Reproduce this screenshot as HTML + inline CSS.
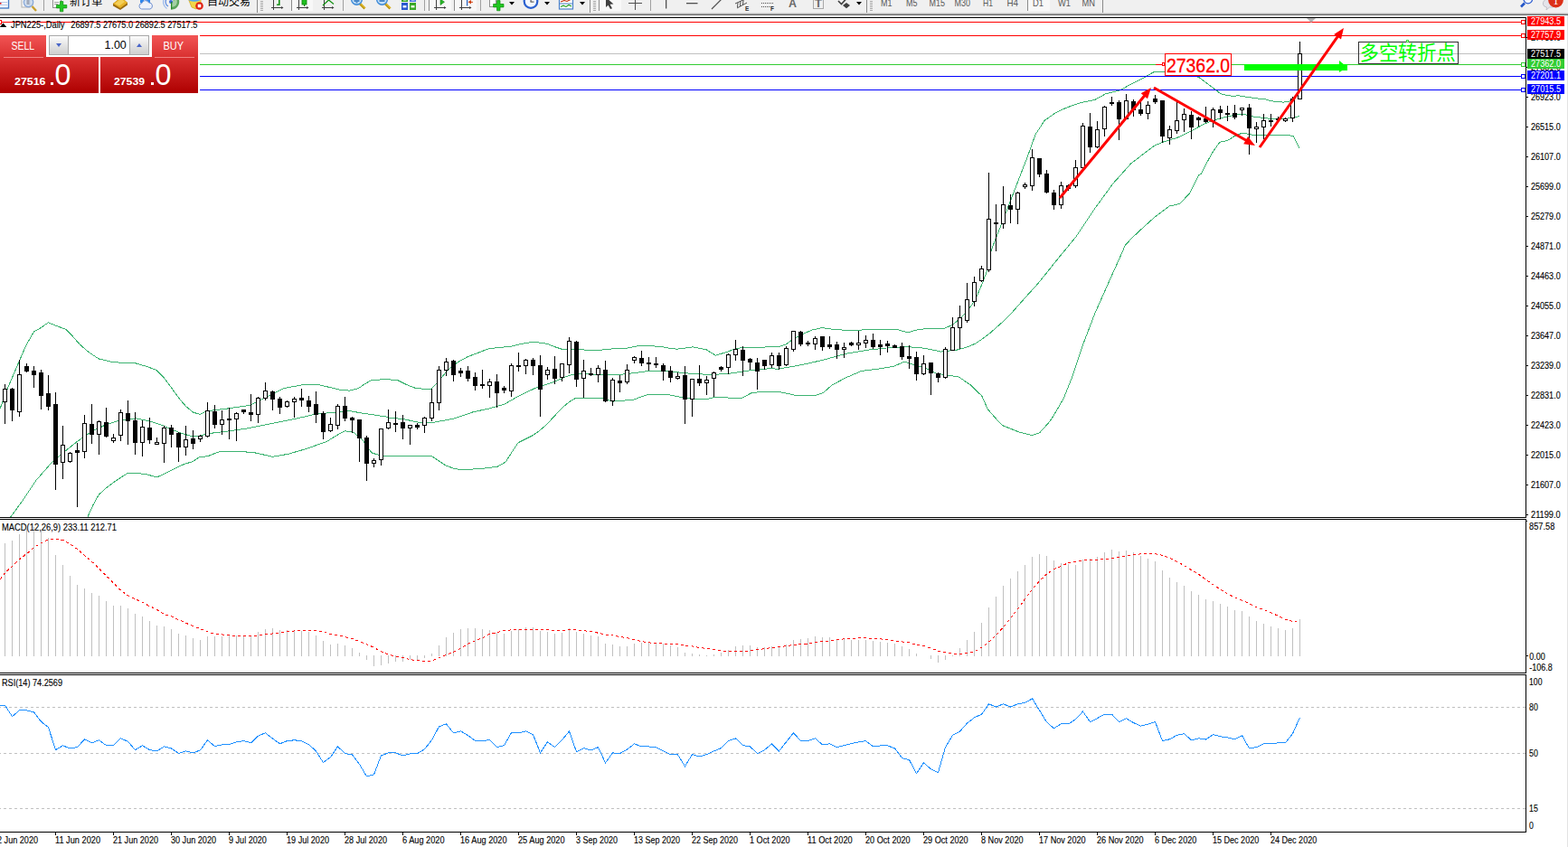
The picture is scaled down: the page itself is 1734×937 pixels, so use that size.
<!DOCTYPE html>
<html><head><meta charset="utf-8"><title>JPN225 Daily</title>
<style>html,body{margin:0;padding:0;background:#fff;overflow:hidden;font-family:"Liberation Sans",sans-serif}
#wrap{position:relative;width:1734px;height:937px;overflow:hidden}</style></head>
<body><div id="wrap">
<svg width="1734" height="937" viewBox="0 0 1734 937" style="position:absolute;left:0;top:0" font-family="Liberation Sans, sans-serif">
<defs>
<clipPath id="cm"><rect x="0" y="20" width="1687" height="552"/></clipPath>
<linearGradient id="gs" x1="0" y1="0" x2="0" y2="1"><stop offset="0" stop-color="#f25555"/><stop offset="0.38" stop-color="#d93030"/><stop offset="1" stop-color="#ae0000"/></linearGradient>
<linearGradient id="gb" x1="0" y1="0" x2="0" y2="1"><stop offset="0" stop-color="#fdfdfd"/><stop offset="0.5" stop-color="#e4e4e4"/><stop offset="1" stop-color="#cfcfcf"/></linearGradient>
</defs>
<rect x="0" y="0" width="1734" height="937" fill="#fff"/>
<g>
<rect x="0" y="0" width="1734" height="15" fill="#f0f0f0"/>
<clipPath id="ct"><rect x="0" y="0" width="1734" height="14"/></clipPath>
<g clip-path="url(#ct)">
<rect x="322" y="0" width="24" height="12" fill="#f8f8f8"/><rect x="322" y="0" width="1" height="12" fill="#8c8c8c"/>
<rect x="474" y="0" width="25" height="12" fill="#f8f8f8"/><rect x="474" y="0" width="1" height="12" fill="#8c8c8c"/>
<rect x="502" y="0" width="25" height="12" fill="#f8f8f8"/><rect x="502" y="0" width="1" height="12" fill="#8c8c8c"/>
<rect x="662" y="0" width="25" height="12" fill="#f8f8f8"/><rect x="662" y="0" width="1" height="12" fill="#8c8c8c"/>
<rect x="1136" y="0" width="25" height="12" fill="#f8f8f8"/><rect x="1136" y="0" width="1" height="12" fill="#8c8c8c"/>
<rect x="48" y="0" width="1" height="12" fill="#a0a0a0"/>
<rect x="379" y="0" width="1" height="12" fill="#a0a0a0"/>
<rect x="469" y="0" width="1" height="12" fill="#a0a0a0"/>
<rect x="531" y="0" width="1" height="12" fill="#a0a0a0"/>
<rect x="719" y="0" width="1" height="12" fill="#a0a0a0"/>
<rect x="284" y="0" width="1" height="15" fill="#8a8a8a"/>
<rect x="652" y="0" width="1" height="15" fill="#8a8a8a"/>
<rect x="958" y="0" width="1" height="15" fill="#8a8a8a"/>
<rect x="1219" y="0" width="1" height="15" fill="#8a8a8a"/>
<rect x="288" y="1" width="3" height="1" fill="#a8a8a8"/>
<rect x="288" y="3" width="3" height="1" fill="#a8a8a8"/>
<rect x="288" y="5" width="3" height="1" fill="#a8a8a8"/>
<rect x="288" y="7" width="3" height="1" fill="#a8a8a8"/>
<rect x="288" y="9" width="3" height="1" fill="#a8a8a8"/>
<rect x="288" y="11" width="3" height="1" fill="#a8a8a8"/>
<rect x="656" y="1" width="3" height="1" fill="#a8a8a8"/>
<rect x="656" y="3" width="3" height="1" fill="#a8a8a8"/>
<rect x="656" y="5" width="3" height="1" fill="#a8a8a8"/>
<rect x="656" y="7" width="3" height="1" fill="#a8a8a8"/>
<rect x="656" y="9" width="3" height="1" fill="#a8a8a8"/>
<rect x="656" y="11" width="3" height="1" fill="#a8a8a8"/>
<rect x="962" y="1" width="3" height="1" fill="#a8a8a8"/>
<rect x="962" y="3" width="3" height="1" fill="#a8a8a8"/>
<rect x="962" y="5" width="3" height="1" fill="#a8a8a8"/>
<rect x="962" y="7" width="3" height="1" fill="#a8a8a8"/>
<rect x="962" y="9" width="3" height="1" fill="#a8a8a8"/>
<rect x="962" y="11" width="3" height="1" fill="#a8a8a8"/>
<rect x="-1" y="-2" width="10.5" height="11" fill="#fff" stroke="#4a80c8" stroke-width="1.4"/><rect x="0" y="2" width="8" height="1" fill="#b8c8e8"/><rect x="0" y="5" width="8" height="1" fill="#b8c8e8"/><rect x="0" y="3" width="1.5" height="1.5" fill="#e00000"/>
<rect x="24" y="-2" width="9" height="10" fill="#fafafa" stroke="#b0b0b0" stroke-width="1"/>
<circle cx="31.5" cy="2.5" r="5.2" fill="#c8d8ec" fill-opacity="0.85" stroke="#88a8d8" stroke-width="1.3"/><rect x="29.5" y="0" width="3" height="5" fill="#a0a8b8"/>
<line x1="35.5" y1="7" x2="40" y2="12" stroke="#c8a030" stroke-width="2.4"/>
<rect x="58.5" y="-2" width="9" height="10.5" fill="#fff" stroke="#909090" stroke-width="1"/><rect x="60" y="2" width="5" height="1" fill="#a0a0a0"/><rect x="60" y="4" width="4" height="1" fill="#a0a0a0"/>
<path d="M66.4,1.6 h3.4 v3.9 h4 v3.4 h-4 v3.9 h-3.4 v-3.9 h-4 v-3.4 h4 z" fill="#22c822" stroke="#0a8a0a" stroke-width="0.7"/>
<text x="77" y="6" font-size="12.1" fill="#000" font-family="'Liberation Sans','Noto Sans CJK SC',sans-serif" textLength="36.3" lengthAdjust="spacingAndGlyphs">新订单</text>
<path d="M125,4 L134,-3 L141,3 L141,5.5 L133,11 L125,6.5 Z" fill="#9a6a10"/><path d="M125,4 L134,-3 L141,3 L133,9 Z" fill="#e8b428"/><path d="M127,4 L134,-1.5 L138,2 L132,6.5 Z" fill="#f4cf58"/>
<rect x="155" y="-2" width="11" height="5" fill="#2a86ee"/><rect x="159" y="-2" width="2" height="4" fill="#e8f2ff"/>
<path d="M156.5,10 a3.3,3.3 0 0 1 0.5,-6.5 a4,4 0 0 1 7.5,-0.5 a3.6,3.6 0 0 1 1.5,7 z" fill="#eef2fa" stroke="#7090d0" stroke-width="1"/>
<path d="M189.5,2 L189.5,10.5 A8.5,8.5 0 0 0 196.5,-3 Z" fill="#5aa45a"/><path d="M189.5,2 L189.5,8 A6,6 0 0 0 195,-1 Z" fill="#a4d0a4"/>
<circle cx="189" cy="2" r="2" fill="#3a6ad8"/><path d="M185,-2 A5.5,5.5 0 0 0 186,7" fill="none" stroke="#5a8ae0" stroke-width="1.2"/><path d="M182.5,-3 A8.5,8.5 0 0 0 184.5,9.5" fill="none" stroke="#9ab8ec" stroke-width="1.2"/><rect x="189" y="2" width="1.3" height="8.5" fill="#2a8a2a"/>
<path d="M208,-2 L222,-2 L222,6 L217,10 L212,8 Z" fill="#f2d648" stroke="#d0a820" stroke-width="0.8"/><path d="M209,-3 h12 v3.5 q-6,2.5 -12,0 z" fill="#58a8e8"/>
<circle cx="220.5" cy="6.5" r="4.3" fill="#e02010"/><rect x="218.7" y="4.7" width="3.6" height="3.6" fill="#fff"/>
<text x="229" y="6.1" font-size="12" fill="#000" font-family="'Liberation Sans','Noto Sans CJK SC',sans-serif" textLength="48" lengthAdjust="spacingAndGlyphs">自动交易</text>
<rect x="302" y="0" width="1" height="11" fill="#404040"/><rect x="300" y="8" width="13" height="1" fill="#404040"/><path d="M311,7 L313.5,8.5 L311,10 Z" fill="#404040"/>
<rect x="308" y="-1" width="1.6" height="7" fill="#109010"/><rect x="306" y="4.5" width="2" height="1.4" fill="#109010"/>
<rect x="330" y="0" width="1" height="11" fill="#404040"/><rect x="328" y="8" width="13" height="1" fill="#404040"/><path d="M339,7 L341.5,8.5 L339,10 Z" fill="#404040"/>
<rect x="334" y="-1" width="5" height="6" fill="#20c020" stroke="#0a800a" stroke-width="0.8"/><rect x="336" y="5" width="1.2" height="2" fill="#0a800a"/>
<rect x="358" y="0" width="1" height="11" fill="#404040"/><rect x="356" y="8" width="13" height="1" fill="#404040"/><path d="M367,7 L369.5,8.5 L367,10 Z" fill="#404040"/>
<polyline points="357,6 363.5,0 369,4.5" fill="none" stroke="#109010" stroke-width="1.2"/>
<line x1="398.0" y1="4" x2="403.5" y2="9.5" stroke="#d8b020" stroke-width="3"/><line x1="398.0" y1="5" x2="403.0" y2="10" stroke="#a07c10" stroke-width="0.8"/>
<circle cx="394.5" cy="-0.5" r="5.8" fill="#c4e0f8" stroke="#3a88d8" stroke-width="1.4"/>
<rect x="391.5" y="0" width="6" height="2" fill="#4a88c8"/>
<rect x="393.5" y="-2" width="2" height="5.5" fill="#4a88c8"/>
<line x1="426.0" y1="4" x2="431.5" y2="9.5" stroke="#d8b020" stroke-width="3"/><line x1="426.0" y1="5" x2="431.0" y2="10" stroke="#a07c10" stroke-width="0.8"/>
<circle cx="422.5" cy="-0.5" r="5.8" fill="#c4e0f8" stroke="#3a88d8" stroke-width="1.4"/>
<rect x="419.5" y="0" width="6" height="2" fill="#4a88c8"/>
<rect x="444" y="-2" width="7" height="4" fill="#3aa828"/><rect x="453" y="-2" width="7" height="4" fill="#4a78e0"/><rect x="444" y="3" width="7" height="8" fill="#2a58d0"/><rect x="453" y="3" width="7" height="8" fill="#3aa828"/>
<rect x="445.5" y="6" width="4" height="2.5" fill="#e8eefc"/><rect x="454.5" y="6" width="4" height="2.5" fill="#e8f8e0"/><rect x="446" y="-1" width="3.5" height="1.5" fill="#fff"/><rect x="455" y="-1" width="3.5" height="1.5" fill="#fff"/>
<rect x="482" y="0" width="1" height="11" fill="#404040"/><rect x="480" y="8" width="13" height="1" fill="#404040"/><path d="M491,7 L493.5,8.5 L491,10 Z" fill="#404040"/>
<path d="M487,-1 L491.5,2.2 L487,5.5 Z" fill="#28b828" stroke="#108010" stroke-width="0.6"/>
<rect x="510" y="0" width="1" height="11" fill="#404040"/><rect x="508" y="8" width="13" height="1" fill="#404040"/><path d="M519,7 L521.5,8.5 L519,10 Z" fill="#404040"/>
<rect x="516" y="-1" width="1.2" height="7.5" fill="#2060c0"/><path d="M517.5,2.3 L521,0 L521,4.6 Z" fill="#d04010"/><rect x="520" y="1.8" width="3" height="1" fill="#d04010"/>
<rect x="541.5" y="-2" width="7" height="9.5" fill="#fff" stroke="#909090" stroke-width="1"/>
<path d="M549.6,0.6 h3.4 v3.9 h4 v3.4 h-4 v3.9 h-3.4 v-3.9 h-4 v-3.4 h4 z" fill="#22c822" stroke="#0a8a0a" stroke-width="0.7"/>
<path d="M563,2 L569,2 L566,5.5 Z" fill="#000"/>
<path d="M602,2 L608,2 L605,5.5 Z" fill="#000"/>
<path d="M641,2 L647,2 L644,5.5 Z" fill="#000"/>
<path d="M947,2 L953,2 L950,5.5 Z" fill="#000"/>
<circle cx="587" cy="1.5" r="7.3" fill="#f4f8ff" stroke="#2a60d0" stroke-width="2.2"/><rect x="586.5" y="-2" width="1.2" height="4" fill="#606060"/><rect x="586.5" y="1.5" width="4" height="1.2" fill="#606060"/>
<rect x="618.5" y="-2" width="15" height="12" fill="#fff" stroke="#4a80c8" stroke-width="1.2"/><rect x="618" y="3.5" width="16" height="1" fill="#4a80c8"/>
<polyline points="620,2 624,0.5 627,1.5 631,-0.5" fill="none" stroke="#c03010" stroke-width="1.1"/><polyline points="620,7.5 623,6.2 626,7.5 629,5.5 632,7" fill="none" stroke="#20a020" stroke-width="1.1"/>
<path d="M670,-3 L678.5,4.5 L674.5,4.8 L677,9.2 L675,10 L672.6,5.8 L670,8 Z" fill="#404040"/>
<rect x="702" y="0" width="1" height="11" fill="#505050"/><rect x="695" y="3" width="15" height="1" fill="#505050"/>
<rect x="736" y="0" width="1.3" height="9.5" fill="#505050"/><rect x="759" y="3" width="12.5" height="1.3" fill="#505050"/><line x1="787" y1="10" x2="797.5" y2="-0.5" stroke="#505050" stroke-width="1.2"/>
<g stroke="#505050" stroke-width="1"><line x1="813" y1="4" x2="824" y2="-1"/><line x1="815" y1="9" x2="826" y2="3"/><line x1="816" y1="3" x2="815.5" y2="8"/><line x1="819" y1="1.5" x2="818.5" y2="7"/><line x1="822" y1="0" x2="821.5" y2="5.5"/></g>
<text x="824" y="11.5" font-size="6.5" font-weight="bold" fill="#303030">E</text>
<rect x="842" y="3" width="1" height="1" fill="#505050"/>
<rect x="844" y="3" width="1" height="1" fill="#505050"/>
<rect x="846" y="3" width="1" height="1" fill="#505050"/>
<rect x="848" y="3" width="1" height="1" fill="#505050"/>
<rect x="850" y="3" width="1" height="1" fill="#505050"/>
<rect x="852" y="3" width="1" height="1" fill="#505050"/>
<rect x="854" y="3" width="1" height="1" fill="#505050"/>
<rect x="842" y="7" width="1" height="1" fill="#505050"/>
<rect x="844" y="7" width="1" height="1" fill="#505050"/>
<rect x="846" y="7" width="1" height="1" fill="#505050"/>
<rect x="848" y="7" width="1" height="1" fill="#505050"/>
<rect x="850" y="7" width="1" height="1" fill="#505050"/>
<rect x="852" y="7" width="1" height="1" fill="#505050"/>
<rect x="854" y="7" width="1" height="1" fill="#505050"/>
<text x="852" y="11.5" font-size="6.5" font-weight="bold" fill="#303030">F</text>
<text x="872" y="8" font-size="13" font-weight="bold" fill="#686868" textLength="9" lengthAdjust="spacingAndGlyphs">A</text>
<rect x="899.5" y="-1.5" width="11" height="11" fill="none" stroke="#606060" stroke-width="1" stroke-dasharray="1 1"/><text x="901" y="8" font-size="12.5" font-weight="bold" fill="#686868" textLength="8" lengthAdjust="spacingAndGlyphs">T</text>
<polyline points="927,1 930.5,4.5 936,-1.5" fill="none" stroke="#404040" stroke-width="1.6"/><path d="M932,6 L936,3 L940,6 L936,9.3 Z" fill="#404040"/>
<text x="974" y="6.5" font-size="11.5" fill="#5a5a5a" textLength="12.5" lengthAdjust="spacingAndGlyphs">M1</text>
<text x="1002" y="6.5" font-size="11.5" fill="#5a5a5a" textLength="12.5" lengthAdjust="spacingAndGlyphs">M5</text>
<text x="1027.5" y="6.5" font-size="11.5" fill="#5a5a5a" textLength="17.5" lengthAdjust="spacingAndGlyphs">M15</text>
<text x="1055.5" y="6.5" font-size="11.5" fill="#5a5a5a" textLength="17.5" lengthAdjust="spacingAndGlyphs">M30</text>
<text x="1087" y="6.5" font-size="11.5" fill="#5a5a5a" textLength="11" lengthAdjust="spacingAndGlyphs">H1</text>
<text x="1113.5" y="6.5" font-size="11.5" fill="#5a5a5a" textLength="12.5" lengthAdjust="spacingAndGlyphs">H4</text>
<text x="1142" y="6.5" font-size="11.5" fill="#5a5a5a" textLength="12" lengthAdjust="spacingAndGlyphs">D1</text>
<text x="1170" y="6.5" font-size="11.5" fill="#5a5a5a" textLength="14" lengthAdjust="spacingAndGlyphs">W1</text>
<text x="1196.5" y="6.5" font-size="11.5" fill="#5a5a5a" textLength="14.5" lengthAdjust="spacingAndGlyphs">MN</text>
<line x1="1686" y1="3.5" x2="1682" y2="7.5" stroke="#2456c8" stroke-width="2.6"/><circle cx="1689.8" cy="-1" r="4.8" fill="#f4f6fc" stroke="#3060d0" stroke-width="1.3"/>
<path d="M1706.5,5 a5,5 0 0 1 5,-6 h6 v9 h-4 l-3.5,3 l0.5,-3 q-3.5,-0.5 -4,-3 z" fill="#e4e4ea" stroke="#b8b8c0" stroke-width="0.8"/>
<circle cx="1720.5" cy="0" r="8.4" fill="#dc3018"/><text x="1717.3" y="5" font-family="Liberation Serif, serif" font-size="13" fill="#fff">1</text>
</g>
<rect x="0" y="14" width="1734" height="1" fill="#dadada" shape-rendering="crispEdges"/>
<rect x="0" y="15" width="1734" height="1" fill="#a6a6a6" shape-rendering="crispEdges"/>
<rect x="0" y="16" width="1734" height="1" fill="#6c6c6c" shape-rendering="crispEdges"/>
</g>
<g shape-rendering="crispEdges" fill="#000">
<rect x="0" y="19" width="1688" height="1"/>
<rect x="1687" y="19" width="1" height="902"/>
<rect x="0" y="572" width="1688" height="1"/>
<rect x="0" y="574" width="1688" height="1"/>
<rect x="0" y="744" width="1688" height="1"/>
<rect x="0" y="746" width="1688" height="1"/>
<rect x="0" y="920" width="1688" height="1"/>
<rect x="1687" y="573" width="1" height="1" fill="#fff"/>
<rect x="1687" y="745" width="1" height="1" fill="#fff"/>
</g>
<g clip-path="url(#cm)" fill="none" stroke="#3cb371" stroke-width="1" shape-rendering="crispEdges">
<polyline points="0,452.1 10,425.8 21.3,399.5 28.9,381.9 37.6,366.8 45.2,362.6 53.4,356.8 62.7,360.6 72.8,364.3 80.3,371.9 87.8,380.6 97.8,389.4 109.1,396.9 125.4,400.7 150.5,402 163.1,405.7 173.1,409.5 180.6,417 188.2,427.1 198.2,440.9 205.7,449.6 213.2,455.9 220.8,458.4 229.6,454.6 250.9,452.1 276,448.4 293.5,439.6 313.6,429.6 338.7,425 351.2,425.3 363.8,428.3 376.3,431.3 386.4,432.1 396.4,429.6 403.9,424.5 411.4,420.3 426.5,419.8 430,419.8 440,420.8 450.1,425.8 460.1,429.6 476.4,430.8 482.7,424.5 487.7,418.3 495.2,409.5 502.8,403.2 510.3,398.2 517.8,394.4 527.8,390.7 540.4,385.7 552.9,384.4 565.5,383.1 578,380.1 588.1,378.6 598.1,379.1 605.6,380.6 615.6,384.4 623.2,386.9 638.2,386.2 648.3,387.2 660.8,387.7 670.8,386.4 680.9,385.7 693.4,385.2 706,382.6 728.5,383.1 738.6,384.9 748.6,386.2 756.1,385.2 766.2,383.9 781.2,386.9 791.3,393.2 803.8,389.4 813.8,385.7 821.4,384.4 841.4,384.4 856.5,383.1 860,383.8 868.8,381.3 876.3,375.8 885.1,370.7 897.6,365.2 908.9,362.5 922.7,364.5 942.8,365.7 967.9,364 990.5,364 998,366.2 1004.3,367.7 1013,365.2 1020.6,364 1044.4,363.2 1053.2,359.5 1060.7,353.2 1068.2,345.7 1073.2,339.4 1078.3,331.9 1083.3,320.6 1087,311.8 1092.1,298 1096.4,276.2 1110.2,241.1 1122.7,208.5 1135.3,175.9 1145.3,148.3 1155.3,133.2 1167.9,124.4 1180.4,118.7 1195.5,113.6 1210.5,110.6 1223.1,103.6 1238.1,100.1 1250.7,93.1 1265.7,85.5 1275.8,79.8 1282,79.3 1293.3,80.5 1310.9,81.8 1325.9,85.5 1336,93.1 1339,95.5 1344.7,99.7 1349.9,103.8 1356,105.3 1363.4,106.4 1369.7,105.7 1377,107 1384.2,108 1392,109.1 1399.8,110 1405,111.6 1412,112.5 1419.5,113.1 1425.7,112.1 1429,110 1431.9,106.9 1434.2,103.5 1436.1,99.7 1437.8,93.5 1438.7,89.5"/>
<polyline points="11.3,572.6 25.1,553.7 40.1,531.2 57.7,511.1 69.5,501.1 85.3,488.5 101.4,477.2 117.4,469.7 133.5,464.7 150.5,462.9 165.6,465.9 180.6,471 198.2,478.5 213.2,483 220.8,482.2 229.6,479.7 250.9,477.2 276,473.5 301.1,468.4 326.1,463.4 351.2,457.7 376.3,455.9 386.4,454.6 401.4,457.2 426.5,460.9 430,462.2 445.1,463.4 462.6,467.2 480.2,467.2 502.8,462.9 522.8,455.9 540.4,452.1 557.9,447.1 575.5,437.1 593.1,428.8 610.6,423.3 628.2,415.8 638.2,413.3 655.8,414 680.9,415 706,412 718.5,410.2 738.6,410.7 763.7,413.3 786.2,414.5 806.3,413.3 831.4,409.5 851.5,407.7 860.3,408.2 885.1,403.9 910.2,398.3 935.3,391.3 960.4,387.1 985.4,384.5 1005.5,383.8 1023.1,385.3 1040.6,389.1 1058.2,387.1 1068.2,384.5 1078.3,380.3 1087,374.5 1095.8,367.7 1105.9,358.7 1115.9,349.4 1125.9,338.1 1136,326.8 1147.3,314.3 1158.5,300.5 1167.9,288.7 1190.5,261.1 1210.5,231 1230.6,203.4 1250.7,180.9 1270,166.1 1276.2,161.4 1285.6,157.3 1293,155 1301.1,152.6 1309,149.1 1316.7,145.3 1324.5,141 1332.3,137 1340,133.8 1347.9,131.3 1355.5,129.3 1363.4,127.7 1368.5,126.7 1373.8,126.1 1379,127.3 1384.2,128.7 1392,129.8 1399.8,130.8 1407.5,131.4 1415.3,131.8 1420.5,131.5 1425.7,130.8 1431,129.8 1436.8,128.7"/>
<polyline points="96.6,572.6 102.9,558.8 109.1,547.5 116.7,540.4 125.4,533.7 133,528.7 141.7,523.1 150.5,523.6 160.6,524.4 173.6,527.9 188.2,521.1 203.2,513.6 213.2,510.6 220.8,505.6 229.6,504.8 237.1,501.8 244.6,499.1 263.4,499.1 283.5,501.1 301.1,505.3 318.6,502.3 338.7,496.5 361.3,488.5 371.3,482.2 381.3,476.7 391.4,478.5 401.4,487.3 406.4,494.8 411.4,501.1 421.5,504.1 430.3,504.1 477.7,504.8 485.2,509.8 492.7,514.9 501.5,518.1 510.3,519.9 535.4,518.1 550.4,516.1 559.2,511.1 565.5,501.1 573,489.8 580.5,486 588.1,482.2 595.6,477.2 603.1,471 611.9,461.7 620.7,452.1 629.4,444.6 637,440.1 663.3,440.1 670.8,442.1 678.4,444.1 700.9,442.1 708.5,439.1 716,436.6 738.6,436.6 753.6,439.6 763.7,440.9 781.2,441.6 791.3,439.1 806.3,440.1 818.9,440.9 825.1,437.8 831.4,434.6 843.9,433.3 860.3,433.3 871.3,435.5 882.6,438 902.6,437.2 910.2,434.7 920.2,425.9 935.3,417.9 952.8,410.4 972.9,407.9 987.9,405.4 1000.5,400.1 1010.5,403.4 1023.1,407.1 1035.6,413.4 1045.6,414.6 1060.7,417.2 1073.2,425.9 1085.8,438 1092.1,452.3 1099.6,461.1 1108.4,470.6 1125.9,477.6 1141,481.6 1149.8,478.6 1161.1,466.1 1168.6,454 1176.1,441 1186.1,415.9 1198.7,378.3 1211.2,345.7 1221.3,323.1 1231.3,300.5 1235.6,291.3 1244.4,271.2 1251.9,263.2 1260.7,254.9 1275.8,241.1 1293.3,228 1304.6,225.5 1315.9,213.5 1325.9,193.4 1328.1,192.5 1334,181 1340.6,169.2 1344.8,163 1348.9,157.3 1353,156.3 1357.2,155.7 1360.3,153.8 1363.4,151.6 1367.5,149.6 1371.7,147.9 1378,147.9 1384.2,149 1394,149.6 1403.9,150 1408,149.5 1416,149.6 1425.7,149.7 1430.4,151 1433.5,157 1436.8,164"/>
</g>
<g shape-rendering="crispEdges">
<rect x="0" y="24" width="1687" height="1" fill="#ff0000"/>
<rect x="0" y="39" width="1687" height="1" fill="#ff0000"/>
<rect x="0" y="59" width="1687" height="1" fill="#c0c0c0"/>
<rect x="0" y="71" width="1687" height="1" fill="#32cd32"/>
<rect x="0" y="84" width="1687" height="1" fill="#0000ff"/>
<rect x="0" y="99" width="1687" height="1" fill="#0000ff"/>
</g>
<g clip-path="url(#cm)" shape-rendering="crispEdges">
<rect x="5" y="425" width="1" height="44" fill="#000"/>
<rect x="3" y="430" width="5" height="15" fill="#000"/>
<rect x="4" y="431" width="3" height="13" fill="#fff"/>
<rect x="13" y="429" width="1" height="37" fill="#000"/>
<rect x="11" y="430" width="5" height="24" fill="#000"/>
<rect x="21" y="398" width="1" height="63" fill="#000"/>
<rect x="19" y="414" width="5" height="42" fill="#000"/>
<rect x="20" y="415" width="3" height="40" fill="#fff"/>
<rect x="29" y="402" width="1" height="10" fill="#000"/>
<rect x="27" y="405" width="5" height="6" fill="#000"/>
<rect x="37" y="405" width="1" height="24" fill="#000"/>
<rect x="35" y="410" width="5" height="5" fill="#000"/>
<rect x="45" y="409" width="1" height="44" fill="#000"/>
<rect x="43" y="412" width="5" height="26" fill="#000"/>
<rect x="53" y="415" width="1" height="39" fill="#000"/>
<rect x="51" y="435" width="5" height="15" fill="#000"/>
<rect x="61" y="434" width="1" height="108" fill="#000"/>
<rect x="59" y="447" width="5" height="67" fill="#000"/>
<rect x="69" y="471" width="1" height="59" fill="#000"/>
<rect x="67" y="492" width="5" height="20" fill="#000"/>
<rect x="68" y="493" width="3" height="18" fill="#fff"/>
<rect x="77" y="500" width="1" height="12" fill="#000"/>
<rect x="75" y="501" width="5" height="10" fill="#000"/>
<rect x="76" y="502" width="3" height="8" fill="#fff"/>
<rect x="85" y="490" width="1" height="71" fill="#000"/>
<rect x="83" y="498" width="5" height="3" fill="#000"/>
<rect x="93" y="459" width="1" height="48" fill="#000"/>
<rect x="91" y="468" width="5" height="32" fill="#000"/>
<rect x="92" y="469" width="3" height="30" fill="#fff"/>
<rect x="101" y="447" width="1" height="44" fill="#000"/>
<rect x="99" y="469" width="5" height="12" fill="#000"/>
<rect x="109" y="465" width="1" height="38" fill="#000"/>
<rect x="107" y="466" width="5" height="15" fill="#000"/>
<rect x="108" y="467" width="3" height="13" fill="#fff"/>
<rect x="117" y="451" width="1" height="33" fill="#000"/>
<rect x="115" y="467" width="5" height="16" fill="#000"/>
<rect x="125" y="480" width="1" height="10" fill="#000"/>
<rect x="123" y="484" width="5" height="4" fill="#000"/>
<rect x="124" y="485" width="3" height="2" fill="#fff"/>
<rect x="133" y="453" width="1" height="35" fill="#000"/>
<rect x="131" y="456" width="5" height="26" fill="#000"/>
<rect x="132" y="457" width="3" height="24" fill="#fff"/>
<rect x="141" y="443" width="1" height="49" fill="#000"/>
<rect x="139" y="457" width="5" height="9" fill="#000"/>
<rect x="149" y="456" width="1" height="47" fill="#000"/>
<rect x="147" y="465" width="5" height="25" fill="#000"/>
<rect x="157" y="465" width="1" height="40" fill="#000"/>
<rect x="155" y="472" width="5" height="18" fill="#000"/>
<rect x="156" y="473" width="3" height="16" fill="#fff"/>
<rect x="165" y="462" width="1" height="29" fill="#000"/>
<rect x="163" y="473" width="5" height="14" fill="#000"/>
<rect x="173" y="484" width="1" height="8" fill="#000"/>
<rect x="171" y="489" width="5" height="3" fill="#000"/>
<rect x="172" y="490" width="3" height="1" fill="#fff"/>
<rect x="181" y="471" width="1" height="41" fill="#000"/>
<rect x="179" y="473" width="5" height="18" fill="#000"/>
<rect x="180" y="474" width="3" height="16" fill="#fff"/>
<rect x="189" y="470" width="1" height="25" fill="#000"/>
<rect x="187" y="473" width="5" height="8" fill="#000"/>
<rect x="197" y="478" width="1" height="33" fill="#000"/>
<rect x="195" y="479" width="5" height="16" fill="#000"/>
<rect x="205" y="471" width="1" height="33" fill="#000"/>
<rect x="203" y="486" width="5" height="9" fill="#000"/>
<rect x="204" y="487" width="3" height="7" fill="#fff"/>
<rect x="213" y="476" width="1" height="21" fill="#000"/>
<rect x="211" y="485" width="5" height="6" fill="#000"/>
<rect x="221" y="481" width="1" height="8" fill="#000"/>
<rect x="219" y="482" width="5" height="4" fill="#000"/>
<rect x="220" y="483" width="3" height="2" fill="#fff"/>
<rect x="229" y="445" width="1" height="39" fill="#000"/>
<rect x="227" y="454" width="5" height="29" fill="#000"/>
<rect x="228" y="455" width="3" height="27" fill="#fff"/>
<rect x="237" y="448" width="1" height="26" fill="#000"/>
<rect x="235" y="455" width="5" height="15" fill="#000"/>
<rect x="245" y="454" width="1" height="27" fill="#000"/>
<rect x="243" y="464" width="5" height="6" fill="#000"/>
<rect x="244" y="465" width="3" height="4" fill="#fff"/>
<rect x="253" y="451" width="1" height="35" fill="#000"/>
<rect x="251" y="463" width="5" height="2" fill="#000"/>
<rect x="261" y="456" width="1" height="32" fill="#000"/>
<rect x="259" y="457" width="5" height="7" fill="#000"/>
<rect x="260" y="458" width="3" height="5" fill="#fff"/>
<rect x="269" y="453" width="1" height="5" fill="#000"/>
<rect x="267" y="453" width="5" height="3" fill="#000"/>
<rect x="277" y="436" width="1" height="30" fill="#000"/>
<rect x="275" y="456" width="5" height="3" fill="#000"/>
<rect x="285" y="439" width="1" height="29" fill="#000"/>
<rect x="283" y="440" width="5" height="19" fill="#000"/>
<rect x="284" y="441" width="3" height="17" fill="#fff"/>
<rect x="293" y="423" width="1" height="20" fill="#000"/>
<rect x="291" y="432" width="5" height="9" fill="#000"/>
<rect x="292" y="433" width="3" height="7" fill="#fff"/>
<rect x="301" y="432" width="1" height="22" fill="#000"/>
<rect x="299" y="433" width="5" height="9" fill="#000"/>
<rect x="309" y="439" width="1" height="19" fill="#000"/>
<rect x="307" y="441" width="5" height="10" fill="#000"/>
<rect x="317" y="443" width="1" height="8" fill="#000"/>
<rect x="315" y="444" width="5" height="6" fill="#000"/>
<rect x="316" y="445" width="3" height="4" fill="#fff"/>
<rect x="325" y="439" width="1" height="23" fill="#000"/>
<rect x="323" y="441" width="5" height="4" fill="#000"/>
<rect x="324" y="442" width="3" height="2" fill="#fff"/>
<rect x="333" y="430" width="1" height="20" fill="#000"/>
<rect x="331" y="440" width="5" height="3" fill="#000"/>
<rect x="341" y="438" width="1" height="18" fill="#000"/>
<rect x="339" y="443" width="5" height="7" fill="#000"/>
<rect x="349" y="433" width="1" height="35" fill="#000"/>
<rect x="347" y="447" width="5" height="12" fill="#000"/>
<rect x="357" y="455" width="1" height="31" fill="#000"/>
<rect x="355" y="457" width="5" height="21" fill="#000"/>
<rect x="365" y="462" width="1" height="16" fill="#000"/>
<rect x="363" y="469" width="5" height="8" fill="#000"/>
<rect x="364" y="470" width="3" height="6" fill="#fff"/>
<rect x="373" y="447" width="1" height="28" fill="#000"/>
<rect x="371" y="449" width="5" height="22" fill="#000"/>
<rect x="372" y="450" width="3" height="20" fill="#fff"/>
<rect x="381" y="439" width="1" height="27" fill="#000"/>
<rect x="379" y="449" width="5" height="14" fill="#000"/>
<rect x="389" y="461" width="1" height="18" fill="#000"/>
<rect x="387" y="462" width="5" height="3" fill="#000"/>
<rect x="397" y="464" width="1" height="47" fill="#000"/>
<rect x="395" y="464" width="5" height="21" fill="#000"/>
<rect x="405" y="482" width="1" height="50" fill="#000"/>
<rect x="403" y="484" width="5" height="29" fill="#000"/>
<rect x="413" y="507" width="1" height="10" fill="#000"/>
<rect x="411" y="509" width="5" height="4" fill="#000"/>
<rect x="412" y="510" width="3" height="2" fill="#fff"/>
<rect x="421" y="474" width="1" height="41" fill="#000"/>
<rect x="419" y="474" width="5" height="35" fill="#000"/>
<rect x="420" y="475" width="3" height="33" fill="#fff"/>
<rect x="429" y="453" width="1" height="22" fill="#000"/>
<rect x="427" y="467" width="5" height="7" fill="#000"/>
<rect x="428" y="468" width="3" height="5" fill="#fff"/>
<rect x="437" y="455" width="1" height="23" fill="#000"/>
<rect x="435" y="468" width="5" height="2" fill="#000"/>
<rect x="445" y="459" width="1" height="27" fill="#000"/>
<rect x="443" y="467" width="5" height="7" fill="#000"/>
<rect x="453" y="470" width="1" height="22" fill="#000"/>
<rect x="451" y="470" width="5" height="4" fill="#000"/>
<rect x="452" y="471" width="3" height="2" fill="#fff"/>
<rect x="461" y="468" width="1" height="7" fill="#000"/>
<rect x="459" y="470" width="5" height="3" fill="#000"/>
<rect x="469" y="461" width="1" height="18" fill="#000"/>
<rect x="467" y="462" width="5" height="9" fill="#000"/>
<rect x="468" y="463" width="3" height="7" fill="#fff"/>
<rect x="477" y="430" width="1" height="36" fill="#000"/>
<rect x="475" y="445" width="5" height="18" fill="#000"/>
<rect x="476" y="446" width="3" height="16" fill="#fff"/>
<rect x="485" y="405" width="1" height="49" fill="#000"/>
<rect x="483" y="409" width="5" height="37" fill="#000"/>
<rect x="484" y="410" width="3" height="35" fill="#fff"/>
<rect x="493" y="396" width="1" height="20" fill="#000"/>
<rect x="491" y="400" width="5" height="10" fill="#000"/>
<rect x="492" y="401" width="3" height="8" fill="#fff"/>
<rect x="501" y="398" width="1" height="24" fill="#000"/>
<rect x="499" y="399" width="5" height="16" fill="#000"/>
<rect x="509" y="407" width="1" height="10" fill="#000"/>
<rect x="507" y="410" width="5" height="3" fill="#000"/>
<rect x="517" y="405" width="1" height="17" fill="#000"/>
<rect x="515" y="410" width="5" height="9" fill="#000"/>
<rect x="525" y="412" width="1" height="20" fill="#000"/>
<rect x="523" y="417" width="5" height="10" fill="#000"/>
<rect x="533" y="409" width="1" height="21" fill="#000"/>
<rect x="531" y="425" width="5" height="2" fill="#000"/>
<rect x="541" y="419" width="1" height="21" fill="#000"/>
<rect x="539" y="422" width="5" height="5" fill="#000"/>
<rect x="540" y="423" width="3" height="3" fill="#fff"/>
<rect x="549" y="414" width="1" height="37" fill="#000"/>
<rect x="547" y="422" width="5" height="13" fill="#000"/>
<rect x="557" y="427" width="1" height="8" fill="#000"/>
<rect x="555" y="429" width="5" height="3" fill="#000"/>
<rect x="565" y="402" width="1" height="37" fill="#000"/>
<rect x="563" y="404" width="5" height="29" fill="#000"/>
<rect x="564" y="405" width="3" height="27" fill="#fff"/>
<rect x="573" y="390" width="1" height="21" fill="#000"/>
<rect x="571" y="404" width="5" height="2" fill="#000"/>
<rect x="581" y="397" width="1" height="17" fill="#000"/>
<rect x="579" y="398" width="5" height="7" fill="#000"/>
<rect x="580" y="399" width="3" height="5" fill="#fff"/>
<rect x="589" y="396" width="1" height="19" fill="#000"/>
<rect x="587" y="398" width="5" height="7" fill="#000"/>
<rect x="597" y="393" width="1" height="68" fill="#000"/>
<rect x="595" y="404" width="5" height="27" fill="#000"/>
<rect x="605" y="406" width="1" height="14" fill="#000"/>
<rect x="603" y="409" width="5" height="6" fill="#000"/>
<rect x="604" y="410" width="3" height="4" fill="#fff"/>
<rect x="613" y="394" width="1" height="31" fill="#000"/>
<rect x="611" y="408" width="5" height="11" fill="#000"/>
<rect x="621" y="402" width="1" height="20" fill="#000"/>
<rect x="619" y="402" width="5" height="16" fill="#000"/>
<rect x="620" y="403" width="3" height="14" fill="#fff"/>
<rect x="629" y="373" width="1" height="40" fill="#000"/>
<rect x="627" y="377" width="5" height="27" fill="#000"/>
<rect x="628" y="378" width="3" height="25" fill="#fff"/>
<rect x="637" y="377" width="1" height="51" fill="#000"/>
<rect x="635" y="378" width="5" height="42" fill="#000"/>
<rect x="645" y="398" width="1" height="42" fill="#000"/>
<rect x="643" y="410" width="5" height="9" fill="#000"/>
<rect x="644" y="411" width="3" height="7" fill="#fff"/>
<rect x="653" y="407" width="1" height="9" fill="#000"/>
<rect x="651" y="413" width="5" height="2" fill="#000"/>
<rect x="661" y="404" width="1" height="19" fill="#000"/>
<rect x="659" y="407" width="5" height="8" fill="#000"/>
<rect x="660" y="408" width="3" height="6" fill="#fff"/>
<rect x="669" y="399" width="1" height="46" fill="#000"/>
<rect x="667" y="409" width="5" height="35" fill="#000"/>
<rect x="677" y="418" width="1" height="31" fill="#000"/>
<rect x="675" y="420" width="5" height="24" fill="#000"/>
<rect x="676" y="421" width="3" height="22" fill="#fff"/>
<rect x="685" y="415" width="1" height="19" fill="#000"/>
<rect x="683" y="421" width="5" height="3" fill="#000"/>
<rect x="693" y="403" width="1" height="22" fill="#000"/>
<rect x="691" y="409" width="5" height="14" fill="#000"/>
<rect x="692" y="410" width="3" height="12" fill="#fff"/>
<rect x="701" y="394" width="1" height="8" fill="#000"/>
<rect x="699" y="395" width="5" height="4" fill="#000"/>
<rect x="700" y="396" width="3" height="2" fill="#fff"/>
<rect x="709" y="388" width="1" height="17" fill="#000"/>
<rect x="707" y="396" width="5" height="6" fill="#000"/>
<rect x="717" y="395" width="1" height="15" fill="#000"/>
<rect x="715" y="401" width="5" height="2" fill="#000"/>
<rect x="725" y="395" width="1" height="12" fill="#000"/>
<rect x="723" y="402" width="5" height="2" fill="#000"/>
<rect x="733" y="402" width="1" height="19" fill="#000"/>
<rect x="731" y="404" width="5" height="7" fill="#000"/>
<rect x="741" y="405" width="1" height="18" fill="#000"/>
<rect x="739" y="410" width="5" height="8" fill="#000"/>
<rect x="749" y="412" width="1" height="8" fill="#000"/>
<rect x="747" y="416" width="5" height="3" fill="#000"/>
<rect x="748" y="417" width="3" height="1" fill="#fff"/>
<rect x="757" y="405" width="1" height="64" fill="#000"/>
<rect x="755" y="415" width="5" height="27" fill="#000"/>
<rect x="765" y="419" width="1" height="42" fill="#000"/>
<rect x="763" y="419" width="5" height="23" fill="#000"/>
<rect x="764" y="420" width="3" height="21" fill="#fff"/>
<rect x="773" y="404" width="1" height="23" fill="#000"/>
<rect x="771" y="419" width="5" height="5" fill="#000"/>
<rect x="781" y="416" width="1" height="21" fill="#000"/>
<rect x="779" y="420" width="5" height="4" fill="#000"/>
<rect x="780" y="421" width="3" height="2" fill="#fff"/>
<rect x="789" y="411" width="1" height="28" fill="#000"/>
<rect x="787" y="412" width="5" height="7" fill="#000"/>
<rect x="788" y="413" width="3" height="5" fill="#fff"/>
<rect x="797" y="405" width="1" height="6" fill="#000"/>
<rect x="795" y="406" width="5" height="3" fill="#000"/>
<rect x="805" y="391" width="1" height="23" fill="#000"/>
<rect x="803" y="392" width="5" height="15" fill="#000"/>
<rect x="804" y="393" width="3" height="13" fill="#fff"/>
<rect x="813" y="376" width="1" height="23" fill="#000"/>
<rect x="811" y="386" width="5" height="7" fill="#000"/>
<rect x="812" y="387" width="3" height="5" fill="#fff"/>
<rect x="821" y="383" width="1" height="33" fill="#000"/>
<rect x="819" y="387" width="5" height="12" fill="#000"/>
<rect x="829" y="396" width="1" height="13" fill="#000"/>
<rect x="827" y="397" width="5" height="4" fill="#000"/>
<rect x="837" y="396" width="1" height="35" fill="#000"/>
<rect x="835" y="401" width="5" height="10" fill="#000"/>
<rect x="845" y="398" width="1" height="11" fill="#000"/>
<rect x="843" y="398" width="5" height="7" fill="#000"/>
<rect x="853" y="390" width="1" height="17" fill="#000"/>
<rect x="851" y="393" width="5" height="11" fill="#000"/>
<rect x="852" y="394" width="3" height="9" fill="#fff"/>
<rect x="861" y="390" width="1" height="19" fill="#000"/>
<rect x="859" y="393" width="5" height="12" fill="#000"/>
<rect x="869" y="383" width="1" height="22" fill="#000"/>
<rect x="867" y="385" width="5" height="19" fill="#000"/>
<rect x="868" y="386" width="3" height="17" fill="#fff"/>
<rect x="877" y="366" width="1" height="23" fill="#000"/>
<rect x="875" y="366" width="5" height="21" fill="#000"/>
<rect x="876" y="367" width="3" height="19" fill="#fff"/>
<rect x="885" y="366" width="1" height="17" fill="#000"/>
<rect x="883" y="367" width="5" height="14" fill="#000"/>
<rect x="893" y="377" width="1" height="6" fill="#000"/>
<rect x="891" y="379" width="5" height="2" fill="#000"/>
<rect x="901" y="372" width="1" height="15" fill="#000"/>
<rect x="899" y="374" width="5" height="7" fill="#000"/>
<rect x="900" y="375" width="3" height="5" fill="#fff"/>
<rect x="909" y="372" width="1" height="16" fill="#000"/>
<rect x="907" y="372" width="5" height="12" fill="#000"/>
<rect x="917" y="372" width="1" height="14" fill="#000"/>
<rect x="915" y="381" width="5" height="3" fill="#000"/>
<rect x="925" y="378" width="1" height="19" fill="#000"/>
<rect x="923" y="381" width="5" height="6" fill="#000"/>
<rect x="933" y="379" width="1" height="17" fill="#000"/>
<rect x="931" y="384" width="5" height="3" fill="#000"/>
<rect x="932" y="385" width="3" height="1" fill="#fff"/>
<rect x="941" y="378" width="1" height="5" fill="#000"/>
<rect x="939" y="379" width="5" height="3" fill="#000"/>
<rect x="949" y="366" width="1" height="21" fill="#000"/>
<rect x="947" y="379" width="5" height="3" fill="#000"/>
<rect x="948" y="380" width="3" height="1" fill="#fff"/>
<rect x="957" y="371" width="1" height="14" fill="#000"/>
<rect x="955" y="376" width="5" height="4" fill="#000"/>
<rect x="956" y="377" width="3" height="2" fill="#fff"/>
<rect x="965" y="369" width="1" height="17" fill="#000"/>
<rect x="963" y="376" width="5" height="8" fill="#000"/>
<rect x="973" y="376" width="1" height="17" fill="#000"/>
<rect x="971" y="381" width="5" height="3" fill="#000"/>
<rect x="981" y="377" width="1" height="13" fill="#000"/>
<rect x="979" y="380" width="5" height="3" fill="#000"/>
<rect x="989" y="381" width="1" height="4" fill="#000"/>
<rect x="987" y="382" width="5" height="3" fill="#000"/>
<rect x="997" y="379" width="1" height="19" fill="#000"/>
<rect x="995" y="383" width="5" height="12" fill="#000"/>
<rect x="1005" y="382" width="1" height="26" fill="#000"/>
<rect x="1003" y="394" width="5" height="3" fill="#000"/>
<rect x="1013" y="389" width="1" height="32" fill="#000"/>
<rect x="1011" y="395" width="5" height="19" fill="#000"/>
<rect x="1021" y="393" width="1" height="22" fill="#000"/>
<rect x="1019" y="402" width="5" height="12" fill="#000"/>
<rect x="1020" y="403" width="3" height="10" fill="#fff"/>
<rect x="1029" y="401" width="1" height="36" fill="#000"/>
<rect x="1027" y="401" width="5" height="12" fill="#000"/>
<rect x="1037" y="412" width="1" height="11" fill="#000"/>
<rect x="1035" y="413" width="5" height="5" fill="#000"/>
<rect x="1045" y="384" width="1" height="35" fill="#000"/>
<rect x="1043" y="386" width="5" height="32" fill="#000"/>
<rect x="1044" y="387" width="3" height="30" fill="#fff"/>
<rect x="1053" y="351" width="1" height="37" fill="#000"/>
<rect x="1051" y="362" width="5" height="26" fill="#000"/>
<rect x="1052" y="363" width="3" height="24" fill="#fff"/>
<rect x="1061" y="338" width="1" height="48" fill="#000"/>
<rect x="1059" y="351" width="5" height="12" fill="#000"/>
<rect x="1060" y="352" width="3" height="10" fill="#fff"/>
<rect x="1069" y="313" width="1" height="44" fill="#000"/>
<rect x="1067" y="331" width="5" height="24" fill="#000"/>
<rect x="1068" y="332" width="3" height="22" fill="#fff"/>
<rect x="1077" y="306" width="1" height="33" fill="#000"/>
<rect x="1075" y="312" width="5" height="22" fill="#000"/>
<rect x="1076" y="313" width="3" height="20" fill="#fff"/>
<rect x="1085" y="294" width="1" height="18" fill="#000"/>
<rect x="1083" y="297" width="5" height="14" fill="#000"/>
<rect x="1084" y="298" width="3" height="12" fill="#fff"/>
<rect x="1093" y="191" width="1" height="110" fill="#000"/>
<rect x="1091" y="242" width="5" height="57" fill="#000"/>
<rect x="1092" y="243" width="3" height="55" fill="#fff"/>
<rect x="1101" y="226" width="1" height="52" fill="#000"/>
<rect x="1099" y="246" width="5" height="2" fill="#000"/>
<rect x="1109" y="206" width="1" height="47" fill="#000"/>
<rect x="1107" y="226" width="5" height="22" fill="#000"/>
<rect x="1108" y="227" width="3" height="20" fill="#fff"/>
<rect x="1117" y="215" width="1" height="32" fill="#000"/>
<rect x="1115" y="227" width="5" height="5" fill="#000"/>
<rect x="1125" y="212" width="1" height="36" fill="#000"/>
<rect x="1123" y="213" width="5" height="19" fill="#000"/>
<rect x="1124" y="214" width="3" height="17" fill="#fff"/>
<rect x="1133" y="202" width="1" height="7" fill="#000"/>
<rect x="1131" y="204" width="5" height="3" fill="#000"/>
<rect x="1132" y="205" width="3" height="1" fill="#fff"/>
<rect x="1141" y="165" width="1" height="46" fill="#000"/>
<rect x="1139" y="174" width="5" height="32" fill="#000"/>
<rect x="1140" y="175" width="3" height="30" fill="#fff"/>
<rect x="1149" y="175" width="1" height="21" fill="#000"/>
<rect x="1147" y="175" width="5" height="18" fill="#000"/>
<rect x="1157" y="188" width="1" height="26" fill="#000"/>
<rect x="1155" y="192" width="5" height="21" fill="#000"/>
<rect x="1165" y="210" width="1" height="22" fill="#000"/>
<rect x="1163" y="213" width="5" height="14" fill="#000"/>
<rect x="1173" y="201" width="1" height="30" fill="#000"/>
<rect x="1171" y="205" width="5" height="22" fill="#000"/>
<rect x="1172" y="206" width="3" height="20" fill="#fff"/>
<rect x="1181" y="204" width="1" height="7" fill="#000"/>
<rect x="1179" y="205" width="5" height="4" fill="#000"/>
<rect x="1189" y="177" width="1" height="31" fill="#000"/>
<rect x="1187" y="185" width="5" height="21" fill="#000"/>
<rect x="1188" y="186" width="3" height="19" fill="#fff"/>
<rect x="1197" y="136" width="1" height="52" fill="#000"/>
<rect x="1195" y="139" width="5" height="47" fill="#000"/>
<rect x="1196" y="140" width="3" height="45" fill="#fff"/>
<rect x="1205" y="125" width="1" height="44" fill="#000"/>
<rect x="1203" y="140" width="5" height="23" fill="#000"/>
<rect x="1213" y="134" width="1" height="30" fill="#000"/>
<rect x="1211" y="143" width="5" height="20" fill="#000"/>
<rect x="1212" y="144" width="3" height="18" fill="#fff"/>
<rect x="1221" y="117" width="1" height="34" fill="#000"/>
<rect x="1219" y="118" width="5" height="25" fill="#000"/>
<rect x="1220" y="119" width="3" height="23" fill="#fff"/>
<rect x="1229" y="107" width="1" height="10" fill="#000"/>
<rect x="1227" y="113" width="5" height="2" fill="#000"/>
<rect x="1237" y="111" width="1" height="44" fill="#000"/>
<rect x="1235" y="113" width="5" height="19" fill="#000"/>
<rect x="1245" y="104" width="1" height="28" fill="#000"/>
<rect x="1243" y="111" width="5" height="21" fill="#000"/>
<rect x="1244" y="112" width="3" height="19" fill="#fff"/>
<rect x="1253" y="110" width="1" height="19" fill="#000"/>
<rect x="1251" y="112" width="5" height="10" fill="#000"/>
<rect x="1261" y="113" width="1" height="15" fill="#000"/>
<rect x="1259" y="121" width="5" height="5" fill="#000"/>
<rect x="1269" y="112" width="1" height="20" fill="#000"/>
<rect x="1267" y="116" width="5" height="10" fill="#000"/>
<rect x="1268" y="117" width="3" height="8" fill="#fff"/>
<rect x="1277" y="105" width="1" height="10" fill="#000"/>
<rect x="1275" y="109" width="5" height="4" fill="#000"/>
<rect x="1285" y="111" width="1" height="47" fill="#000"/>
<rect x="1283" y="111" width="5" height="40" fill="#000"/>
<rect x="1293" y="139" width="1" height="21" fill="#000"/>
<rect x="1291" y="143" width="5" height="10" fill="#000"/>
<rect x="1292" y="144" width="3" height="8" fill="#fff"/>
<rect x="1301" y="113" width="1" height="35" fill="#000"/>
<rect x="1299" y="133" width="5" height="12" fill="#000"/>
<rect x="1300" y="134" width="3" height="10" fill="#fff"/>
<rect x="1309" y="120" width="1" height="26" fill="#000"/>
<rect x="1307" y="126" width="5" height="7" fill="#000"/>
<rect x="1308" y="127" width="3" height="5" fill="#fff"/>
<rect x="1317" y="123" width="1" height="31" fill="#000"/>
<rect x="1315" y="127" width="5" height="14" fill="#000"/>
<rect x="1325" y="129" width="1" height="11" fill="#000"/>
<rect x="1323" y="130" width="5" height="3" fill="#000"/>
<rect x="1333" y="118" width="1" height="18" fill="#000"/>
<rect x="1331" y="131" width="5" height="4" fill="#000"/>
<rect x="1341" y="119" width="1" height="22" fill="#000"/>
<rect x="1339" y="121" width="5" height="13" fill="#000"/>
<rect x="1340" y="122" width="3" height="11" fill="#fff"/>
<rect x="1349" y="117" width="1" height="15" fill="#000"/>
<rect x="1347" y="121" width="5" height="4" fill="#000"/>
<rect x="1357" y="117" width="1" height="17" fill="#000"/>
<rect x="1355" y="125" width="5" height="2" fill="#000"/>
<rect x="1365" y="116" width="1" height="16" fill="#000"/>
<rect x="1363" y="125" width="5" height="5" fill="#000"/>
<rect x="1373" y="119" width="1" height="9" fill="#000"/>
<rect x="1371" y="119" width="5" height="3" fill="#000"/>
<rect x="1372" y="120" width="3" height="1" fill="#fff"/>
<rect x="1381" y="115" width="1" height="56" fill="#000"/>
<rect x="1379" y="119" width="5" height="23" fill="#000"/>
<rect x="1389" y="135" width="1" height="23" fill="#000"/>
<rect x="1387" y="140" width="5" height="3" fill="#000"/>
<rect x="1388" y="141" width="3" height="1" fill="#fff"/>
<rect x="1397" y="126" width="1" height="28" fill="#000"/>
<rect x="1395" y="133" width="5" height="8" fill="#000"/>
<rect x="1396" y="134" width="3" height="6" fill="#fff"/>
<rect x="1405" y="126" width="1" height="14" fill="#000"/>
<rect x="1403" y="133" width="5" height="2" fill="#000"/>
<rect x="1413" y="129" width="1" height="6" fill="#000"/>
<rect x="1411" y="131" width="5" height="2" fill="#000"/>
<rect x="1421" y="130" width="1" height="5" fill="#000"/>
<rect x="1419" y="131" width="5" height="3" fill="#000"/>
<rect x="1420" y="132" width="3" height="1" fill="#fff"/>
<rect x="1429" y="107" width="1" height="28" fill="#000"/>
<rect x="1427" y="109" width="5" height="22" fill="#000"/>
<rect x="1428" y="110" width="3" height="20" fill="#fff"/>
<rect x="1437" y="46" width="1" height="64" fill="#000"/>
<rect x="1435" y="59" width="5" height="51" fill="#000"/>
<rect x="1436" y="60" width="3" height="49" fill="#fff"/>
</g>
<g shape-rendering="crispEdges" fill="#c0c0c0">
<rect x="5" y="601" width="1" height="125"/>
<rect x="13" y="598" width="1" height="128"/>
<rect x="21" y="591" width="1" height="135"/>
<rect x="29" y="585" width="1" height="141"/>
<rect x="37" y="583" width="1" height="143"/>
<rect x="45" y="587" width="1" height="139"/>
<rect x="53" y="595" width="1" height="131"/>
<rect x="61" y="614" width="1" height="112"/>
<rect x="69" y="625" width="1" height="101"/>
<rect x="77" y="637" width="1" height="89"/>
<rect x="85" y="647" width="1" height="79"/>
<rect x="93" y="651" width="1" height="75"/>
<rect x="101" y="656" width="1" height="70"/>
<rect x="109" y="659" width="1" height="67"/>
<rect x="117" y="665" width="1" height="61"/>
<rect x="125" y="670" width="1" height="56"/>
<rect x="133" y="670" width="1" height="56"/>
<rect x="141" y="673" width="1" height="53"/>
<rect x="149" y="679" width="1" height="47"/>
<rect x="157" y="682" width="1" height="44"/>
<rect x="165" y="687" width="1" height="39"/>
<rect x="173" y="692" width="1" height="34"/>
<rect x="181" y="693" width="1" height="33"/>
<rect x="189" y="696" width="1" height="30"/>
<rect x="197" y="701" width="1" height="25"/>
<rect x="205" y="703" width="1" height="23"/>
<rect x="213" y="706" width="1" height="20"/>
<rect x="221" y="708" width="1" height="18"/>
<rect x="229" y="704" width="1" height="22"/>
<rect x="237" y="704" width="1" height="22"/>
<rect x="245" y="704" width="1" height="22"/>
<rect x="253" y="703" width="1" height="23"/>
<rect x="261" y="703" width="1" height="23"/>
<rect x="269" y="703" width="1" height="23"/>
<rect x="277" y="703" width="1" height="23"/>
<rect x="285" y="699" width="1" height="27"/>
<rect x="293" y="696" width="1" height="30"/>
<rect x="301" y="695" width="1" height="31"/>
<rect x="309" y="697" width="1" height="29"/>
<rect x="317" y="697" width="1" height="29"/>
<rect x="325" y="697" width="1" height="29"/>
<rect x="333" y="698" width="1" height="28"/>
<rect x="341" y="699" width="1" height="27"/>
<rect x="349" y="703" width="1" height="23"/>
<rect x="357" y="709" width="1" height="17"/>
<rect x="365" y="713" width="1" height="13"/>
<rect x="373" y="712" width="1" height="14"/>
<rect x="381" y="714" width="1" height="12"/>
<rect x="389" y="717" width="1" height="9"/>
<rect x="397" y="722" width="1" height="4"/>
<rect x="405" y="725" width="1" height="5"/>
<rect x="413" y="725" width="1" height="12"/>
<rect x="421" y="725" width="1" height="11"/>
<rect x="429" y="725" width="1" height="9"/>
<rect x="437" y="725" width="1" height="7"/>
<rect x="445" y="725" width="1" height="7"/>
<rect x="453" y="725" width="1" height="5"/>
<rect x="461" y="725" width="1" height="5"/>
<rect x="469" y="725" width="1" height="3"/>
<rect x="477" y="723" width="1" height="3"/>
<rect x="485" y="714" width="1" height="12"/>
<rect x="493" y="705" width="1" height="21"/>
<rect x="501" y="700" width="1" height="26"/>
<rect x="509" y="696" width="1" height="30"/>
<rect x="517" y="695" width="1" height="31"/>
<rect x="525" y="695" width="1" height="31"/>
<rect x="533" y="696" width="1" height="30"/>
<rect x="541" y="697" width="1" height="29"/>
<rect x="549" y="700" width="1" height="26"/>
<rect x="557" y="701" width="1" height="25"/>
<rect x="565" y="698" width="1" height="28"/>
<rect x="573" y="696" width="1" height="30"/>
<rect x="581" y="694" width="1" height="32"/>
<rect x="589" y="694" width="1" height="32"/>
<rect x="597" y="698" width="1" height="28"/>
<rect x="605" y="699" width="1" height="27"/>
<rect x="613" y="701" width="1" height="25"/>
<rect x="621" y="700" width="1" height="26"/>
<rect x="629" y="695" width="1" height="31"/>
<rect x="637" y="699" width="1" height="27"/>
<rect x="645" y="701" width="1" height="25"/>
<rect x="653" y="703" width="1" height="23"/>
<rect x="661" y="704" width="1" height="22"/>
<rect x="669" y="712" width="1" height="14"/>
<rect x="677" y="713" width="1" height="13"/>
<rect x="685" y="715" width="1" height="11"/>
<rect x="693" y="715" width="1" height="11"/>
<rect x="701" y="712" width="1" height="14"/>
<rect x="709" y="711" width="1" height="15"/>
<rect x="717" y="711" width="1" height="15"/>
<rect x="725" y="711" width="1" height="15"/>
<rect x="733" y="712" width="1" height="14"/>
<rect x="741" y="714" width="1" height="12"/>
<rect x="749" y="716" width="1" height="10"/>
<rect x="757" y="722" width="1" height="4"/>
<rect x="765" y="723" width="1" height="3"/>
<rect x="773" y="724" width="1" height="2"/>
<rect x="781" y="725" width="1" height="1"/>
<rect x="789" y="724" width="1" height="2"/>
<rect x="797" y="722" width="1" height="4"/>
<rect x="805" y="719" width="1" height="7"/>
<rect x="813" y="715" width="1" height="11"/>
<rect x="821" y="714" width="1" height="12"/>
<rect x="829" y="714" width="1" height="12"/>
<rect x="837" y="716" width="1" height="10"/>
<rect x="845" y="716" width="1" height="10"/>
<rect x="853" y="715" width="1" height="11"/>
<rect x="861" y="715" width="1" height="11"/>
<rect x="869" y="713" width="1" height="13"/>
<rect x="877" y="708" width="1" height="18"/>
<rect x="885" y="707" width="1" height="19"/>
<rect x="893" y="706" width="1" height="20"/>
<rect x="901" y="704" width="1" height="22"/>
<rect x="909" y="705" width="1" height="21"/>
<rect x="917" y="705" width="1" height="21"/>
<rect x="925" y="707" width="1" height="19"/>
<rect x="933" y="707" width="1" height="19"/>
<rect x="941" y="708" width="1" height="18"/>
<rect x="949" y="708" width="1" height="18"/>
<rect x="957" y="708" width="1" height="18"/>
<rect x="965" y="709" width="1" height="17"/>
<rect x="973" y="710" width="1" height="16"/>
<rect x="981" y="711" width="1" height="15"/>
<rect x="989" y="712" width="1" height="14"/>
<rect x="997" y="715" width="1" height="11"/>
<rect x="1005" y="718" width="1" height="8"/>
<rect x="1013" y="723" width="1" height="3"/>
<rect x="1029" y="725" width="1" height="4"/>
<rect x="1037" y="725" width="1" height="8"/>
<rect x="1045" y="725" width="1" height="5"/>
<rect x="1053" y="725" width="1" height="1"/>
<rect x="1061" y="717" width="1" height="9"/>
<rect x="1069" y="708" width="1" height="18"/>
<rect x="1077" y="699" width="1" height="27"/>
<rect x="1085" y="689" width="1" height="37"/>
<rect x="1093" y="672" width="1" height="54"/>
<rect x="1101" y="660" width="1" height="66"/>
<rect x="1109" y="648" width="1" height="78"/>
<rect x="1117" y="640" width="1" height="86"/>
<rect x="1125" y="632" width="1" height="94"/>
<rect x="1133" y="625" width="1" height="101"/>
<rect x="1141" y="616" width="1" height="110"/>
<rect x="1149" y="613" width="1" height="113"/>
<rect x="1157" y="615" width="1" height="111"/>
<rect x="1165" y="620" width="1" height="106"/>
<rect x="1173" y="623" width="1" height="103"/>
<rect x="1181" y="624" width="1" height="102"/>
<rect x="1189" y="625" width="1" height="101"/>
<rect x="1197" y="619" width="1" height="107"/>
<rect x="1205" y="618" width="1" height="108"/>
<rect x="1213" y="616" width="1" height="110"/>
<rect x="1221" y="611" width="1" height="115"/>
<rect x="1229" y="608" width="1" height="118"/>
<rect x="1237" y="610" width="1" height="116"/>
<rect x="1245" y="609" width="1" height="117"/>
<rect x="1253" y="611" width="1" height="115"/>
<rect x="1261" y="615" width="1" height="111"/>
<rect x="1269" y="618" width="1" height="108"/>
<rect x="1277" y="621" width="1" height="105"/>
<rect x="1285" y="631" width="1" height="95"/>
<rect x="1293" y="639" width="1" height="87"/>
<rect x="1301" y="644" width="1" height="82"/>
<rect x="1309" y="648" width="1" height="78"/>
<rect x="1317" y="654" width="1" height="72"/>
<rect x="1325" y="658" width="1" height="68"/>
<rect x="1333" y="663" width="1" height="63"/>
<rect x="1341" y="665" width="1" height="61"/>
<rect x="1349" y="668" width="1" height="58"/>
<rect x="1357" y="671" width="1" height="55"/>
<rect x="1365" y="675" width="1" height="51"/>
<rect x="1373" y="676" width="1" height="50"/>
<rect x="1381" y="682" width="1" height="44"/>
<rect x="1389" y="687" width="1" height="39"/>
<rect x="1397" y="690" width="1" height="36"/>
<rect x="1405" y="693" width="1" height="33"/>
<rect x="1413" y="695" width="1" height="31"/>
<rect x="1421" y="697" width="1" height="29"/>
<rect x="1429" y="695" width="1" height="31"/>
<rect x="1437" y="685" width="1" height="41"/>
</g>
<polyline points="0,641 5.5,633.8 13.5,626.3 21.5,618.8 29.5,612.6 37.5,605.8 45.5,600.5 53.5,597 61.5,596.5 69.5,597.5 77.5,602 85.5,607.5 93.5,614.6 101.5,621.3 109.5,628.8 117.5,637.1 125.5,645.1 133.5,653.1 141.5,658.9 149.5,662.6 157.5,666.4 165.5,670.6 173.5,674.4 181.5,679.4 189.5,681.9 197.5,685.6 205.5,689.1 213.5,692.7 221.5,695.7 229.5,698.9 237.5,701.2 245.5,701.9 253.5,702.9 261.5,703.7 269.5,703.9 277.5,703.7 285.5,702.9 293.5,701.9 301.5,700.9 309.5,699.9 317.5,698.9 325.5,697.9 333.5,697.9 341.5,697.9 349.5,697.9 357.5,698.9 365.5,701.4 373.5,702.7 381.5,704.7 389.5,706.4 397.5,709.7 405.5,712.7 413.5,716.4 421.5,720.7 429.5,723.9 437.5,726.4 445.5,727.7 453.5,729.7 461.5,730.7 469.5,731.7 477.5,730.9 485.5,727.7 493.5,724.4 501.5,721.4 509.5,717.2 517.5,712.2 525.5,708.9 533.5,705.7 541.5,701.4 549.5,699.7 557.5,697.7 565.5,696.9 573.5,696.9 581.5,696.9 589.5,696.9 597.5,696.9 605.5,696.9 613.5,697.7 621.5,697.7 629.5,696.7 637.5,696.7 645.5,697.7 653.5,698.7 661.5,700.2 669.5,701.9 677.5,702.9 685.5,704.4 693.5,705.7 701.5,707.7 709.5,709.7 717.5,710.9 725.5,711.7 733.5,711.9 741.5,712.7 749.5,712.9 757.5,713.9 765.5,714.9 773.5,716.4 781.5,717.4 789.5,718.7 797.5,719.7 805.5,720.7 813.5,720.9 821.5,720.7 829.5,719.7 837.5,718.7 845.5,717.7 853.5,716.4 861.5,715.9 869.5,714.7 877.5,713.4 885.5,712.7 893.5,711.9 901.5,710.7 909.5,709.7 917.5,708.9 925.5,707.7 933.5,706.9 941.5,706.2 949.5,705.9 957.5,705.9 965.5,706.7 973.5,706.9 981.5,707.7 989.5,708.9 997.5,709.9 1005.5,710.9 1013.5,713.2 1021.5,714.7 1029.5,716.9 1037.5,720.2 1045.5,721.9 1053.5,723.2 1061.5,723.9 1069.5,722.7 1077.5,720.7 1085.5,716.4 1093.5,710.2 1101.5,702.7 1109.5,693.9 1117.5,683.9 1125.5,673.9 1133.5,662.6 1141.5,652.1 1149.5,642.6 1157.5,635.1 1165.5,629.6 1173.5,626.3 1181.5,622.6 1189.5,621.3 1197.5,620.1 1205.5,619.3 1213.5,619.1 1221.5,618.8 1229.5,617.6 1237.5,616.3 1245.5,615.1 1253.5,613.8 1261.5,612.8 1269.5,612.6 1277.5,612.8 1285.5,614.3 1293.5,617.1 1301.5,621.3 1309.5,625.6 1317.5,630.6 1325.5,635.1 1333.5,641.3 1341.5,646.8 1349.5,651.8 1357.5,657.1 1365.5,660.9 1373.5,664.1 1381.5,667.6 1389.5,671.9 1397.5,674.6 1405.5,677.6 1413.5,681.4 1421.5,685.1 1429.5,687.6 1434,687.9" fill="none" stroke="#ff0000" stroke-width="1" stroke-dasharray="3 3" shape-rendering="crispEdges"/>
<g shape-rendering="crispEdges" stroke="#c0c0c0" stroke-width="1" stroke-dasharray="3 3">
<line x1="-2" y1="782.5" x2="1687" y2="782.5"/>
<line x1="-2" y1="833.5" x2="1687" y2="833.5"/>
<line x1="-2" y1="894.5" x2="1687" y2="894.5"/>
</g>
<polyline points="0,780.5 5.5,780.3 13.5,792.6 21.5,785.8 29.5,785.8 37.5,787.8 45.5,798.3 53.5,804.6 61.5,829.6 69.5,824.9 77.5,827.9 85.5,826.6 93.5,817.8 101.5,821.8 109.5,818.8 117.5,824.6 125.5,824.6 133.5,816.8 141.5,820.3 149.5,829.6 157.5,824.9 165.5,829.6 173.5,830.9 181.5,825.9 189.5,827.9 197.5,833.4 205.5,830.9 213.5,832.9 221.5,829.9 229.5,818.8 237.5,825.6 245.5,823.8 253.5,823.6 261.5,820.8 269.5,819.6 277.5,821.8 285.5,814.1 293.5,810.8 301.5,817.1 309.5,822.8 317.5,819.6 325.5,818.8 333.5,819.6 341.5,823.6 349.5,830.9 357.5,843.6 365.5,837.6 373.5,825.9 381.5,833.6 389.5,834.9 397.5,845.4 405.5,858.9 413.5,856.9 421.5,835.9 429.5,832.9 437.5,832.9 445.5,835.9 453.5,833.9 461.5,833.6 469.5,828.9 477.5,818.6 485.5,803.8 493.5,800.8 501.5,810.8 509.5,808.8 517.5,813.6 525.5,819.6 533.5,819.6 541.5,818.6 549.5,826.6 557.5,824.6 565.5,810.8 573.5,810.8 581.5,808.8 589.5,812.6 597.5,832.9 605.5,820.8 613.5,826.6 621.5,818.6 629.5,809.1 637.5,831.6 645.5,827.6 653.5,829.9 661.5,826.6 669.5,843.9 677.5,832.9 685.5,833.6 693.5,829.1 701.5,822.8 709.5,825.9 717.5,825.9 725.5,826.9 733.5,830.9 741.5,834.6 749.5,834.9 757.5,847.6 765.5,834.6 773.5,836.9 781.5,834.6 789.5,830.9 797.5,827.6 805.5,819.6 813.5,816.8 821.5,824.6 829.5,825.9 837.5,833.6 845.5,829.6 853.5,822.8 861.5,830.9 869.5,820.8 877.5,810.8 885.5,819.6 893.5,819.6 901.5,816.8 909.5,823.8 917.5,822.8 925.5,826.6 933.5,824.6 941.5,822.6 949.5,820.8 957.5,819.6 965.5,825.9 973.5,824.9 981.5,824.9 989.5,827.9 997.5,838.6 1005.5,840.6 1013.5,855.6 1021.5,843.9 1029.5,850.9 1037.5,854.6 1045.5,826.6 1053.5,813.3 1061.5,809.1 1069.5,800.1 1077.5,793.8 1085.5,790.3 1093.5,778.8 1101.5,782 1109.5,778.8 1117.5,782 1125.5,778.8 1133.5,777.5 1141.5,772.8 1149.5,785.8 1157.5,798.8 1165.5,805.8 1173.5,800.8 1181.5,800.8 1189.5,795.8 1197.5,787.1 1205.5,798.6 1213.5,794.6 1221.5,790.1 1229.5,790.1 1237.5,798.6 1245.5,794.8 1253.5,799.6 1261.5,803.1 1269.5,801.1 1277.5,798.6 1285.5,819.6 1293.5,817.8 1301.5,813.3 1309.5,811.6 1317.5,818.8 1325.5,816.8 1333.5,818.1 1341.5,812.6 1349.5,814.8 1357.5,815.8 1365.5,817.8 1373.5,813.6 1381.5,827.9 1389.5,826.6 1397.5,822.8 1405.5,822.8 1413.5,821.8 1421.5,821.8 1429.5,811.6 1437.5,793.8" fill="none" stroke="#1e90ff" stroke-width="1" shape-rendering="crispEdges"/>
<g shape-rendering="crispEdges" fill="#000">
<rect x="1688" y="41" width="2" height="1"/>
<rect x="1688" y="74" width="2" height="1"/>
<rect x="1688" y="107" width="2" height="1"/>
<rect x="1688" y="140" width="2" height="1"/>
<rect x="1688" y="173" width="2" height="1"/>
<rect x="1688" y="206" width="2" height="1"/>
<rect x="1688" y="239" width="2" height="1"/>
<rect x="1688" y="272" width="2" height="1"/>
<rect x="1688" y="305" width="2" height="1"/>
<rect x="1688" y="338" width="2" height="1"/>
<rect x="1688" y="371" width="2" height="1"/>
<rect x="1688" y="404" width="2" height="1"/>
<rect x="1688" y="437" width="2" height="1"/>
<rect x="1688" y="470" width="2" height="1"/>
<rect x="1688" y="503" width="2" height="1"/>
<rect x="1688" y="536" width="2" height="1"/>
<rect x="1688" y="569" width="2" height="1"/>
</g>
<text x="1693" y="111.4" font-size="10.2" fill="#000" stroke="#000" stroke-width="0.12" textLength="32.7" lengthAdjust="spacingAndGlyphs">26923.0</text>
<text x="1693" y="144.4" font-size="10.2" fill="#000" stroke="#000" stroke-width="0.12" textLength="32.7" lengthAdjust="spacingAndGlyphs">26515.0</text>
<text x="1693" y="177.4" font-size="10.2" fill="#000" stroke="#000" stroke-width="0.12" textLength="32.7" lengthAdjust="spacingAndGlyphs">26107.0</text>
<text x="1693" y="210.4" font-size="10.2" fill="#000" stroke="#000" stroke-width="0.12" textLength="32.7" lengthAdjust="spacingAndGlyphs">25699.0</text>
<text x="1693" y="243.4" font-size="10.2" fill="#000" stroke="#000" stroke-width="0.12" textLength="32.7" lengthAdjust="spacingAndGlyphs">25279.0</text>
<text x="1693" y="276.4" font-size="10.2" fill="#000" stroke="#000" stroke-width="0.12" textLength="32.7" lengthAdjust="spacingAndGlyphs">24871.0</text>
<text x="1693" y="309.4" font-size="10.2" fill="#000" stroke="#000" stroke-width="0.12" textLength="32.7" lengthAdjust="spacingAndGlyphs">24463.0</text>
<text x="1693" y="342.4" font-size="10.2" fill="#000" stroke="#000" stroke-width="0.12" textLength="32.7" lengthAdjust="spacingAndGlyphs">24055.0</text>
<text x="1693" y="375.4" font-size="10.2" fill="#000" stroke="#000" stroke-width="0.12" textLength="32.7" lengthAdjust="spacingAndGlyphs">23647.0</text>
<text x="1693" y="408.4" font-size="10.2" fill="#000" stroke="#000" stroke-width="0.12" textLength="32.7" lengthAdjust="spacingAndGlyphs">23239.0</text>
<text x="1693" y="441.4" font-size="10.2" fill="#000" stroke="#000" stroke-width="0.12" textLength="32.7" lengthAdjust="spacingAndGlyphs">22831.0</text>
<text x="1693" y="474.4" font-size="10.2" fill="#000" stroke="#000" stroke-width="0.12" textLength="32.7" lengthAdjust="spacingAndGlyphs">22423.0</text>
<text x="1693" y="507.4" font-size="10.2" fill="#000" stroke="#000" stroke-width="0.12" textLength="32.7" lengthAdjust="spacingAndGlyphs">22015.0</text>
<text x="1693" y="540.4" font-size="10.2" fill="#000" stroke="#000" stroke-width="0.12" textLength="32.7" lengthAdjust="spacingAndGlyphs">21607.0</text>
<text x="1693" y="573.4" font-size="10.2" fill="#000" stroke="#000" stroke-width="0.12" textLength="32.7" lengthAdjust="spacingAndGlyphs">21199.0</text>
<text x="1693" y="45" font-size="10.2" fill="#000" stroke="#000" stroke-width="0.12" textLength="33" lengthAdjust="spacingAndGlyphs">27739.0</text>
<text x="1693" y="78" font-size="10.2" fill="#000" stroke="#000" stroke-width="0.12" textLength="33" lengthAdjust="spacingAndGlyphs">27331.0</text>
<text x="1691" y="585.7" font-size="10.2" fill="#000" stroke="#000" stroke-width="0.12" textLength="28.3" lengthAdjust="spacingAndGlyphs">857.58</text>
<text x="1691.3" y="729.5" font-size="10.2" fill="#000" stroke="#000" stroke-width="0.12" textLength="17.5" lengthAdjust="spacingAndGlyphs">0.00</text>
<text x="1691.3" y="741.5" font-size="10.2" fill="#000" stroke="#000" stroke-width="0.12" textLength="25.5" lengthAdjust="spacingAndGlyphs">-106.8</text>
<rect x="1688" y="576" width="1" height="1" fill="#000" shape-rendering="crispEdges"/>
<rect x="1688" y="725" width="2" height="1" fill="#000" shape-rendering="crispEdges"/>
<text x="1691" y="757.5" font-size="10.2" fill="#000" stroke="#000" stroke-width="0.12" textLength="14.5" lengthAdjust="spacingAndGlyphs">100</text>
<text x="1691" y="786" font-size="10.2" fill="#000" stroke="#000" stroke-width="0.12" textLength="9.8" lengthAdjust="spacingAndGlyphs">80</text>
<text x="1691" y="837" font-size="10.2" fill="#000" stroke="#000" stroke-width="0.12" textLength="9.8" lengthAdjust="spacingAndGlyphs">50</text>
<text x="1691" y="898" font-size="10.2" fill="#000" stroke="#000" stroke-width="0.12" textLength="9.8" lengthAdjust="spacingAndGlyphs">15</text>
<text x="1691" y="917" font-size="10.2" fill="#000" stroke="#000" stroke-width="0.12" textLength="4.9" lengthAdjust="spacingAndGlyphs">0</text>
<rect x="1689" y="18" width="41" height="11" fill="#ff0000" shape-rendering="crispEdges"/>
<text x="1693" y="27" font-size="10.2" fill="#fff" textLength="33" lengthAdjust="spacingAndGlyphs">27943.5</text>
<rect x="1689" y="33" width="41" height="11" fill="#ff0000" shape-rendering="crispEdges"/>
<text x="1693" y="42" font-size="10.2" fill="#fff" textLength="33" lengthAdjust="spacingAndGlyphs">27757.9</text>
<rect x="1689" y="54" width="41" height="11" fill="#000" shape-rendering="crispEdges"/>
<text x="1693" y="63" font-size="10.2" fill="#fff" textLength="33" lengthAdjust="spacingAndGlyphs">27517.5</text>
<rect x="1689" y="65" width="41" height="11" fill="#32cd32" shape-rendering="crispEdges"/>
<text x="1693" y="74" font-size="10.2" fill="#fff" textLength="33" lengthAdjust="spacingAndGlyphs">27362.0</text>
<rect x="1689" y="78" width="41" height="11" fill="#0000ff" shape-rendering="crispEdges"/>
<text x="1693" y="87" font-size="10.2" fill="#fff" textLength="33" lengthAdjust="spacingAndGlyphs">27201.1</text>
<rect x="1689" y="93" width="41" height="11" fill="#0000ff" shape-rendering="crispEdges"/>
<text x="1693" y="102" font-size="10.2" fill="#fff" textLength="33" lengthAdjust="spacingAndGlyphs">27015.5</text>
<rect x="1682.5" y="22.5" width="4" height="4" fill="#fff" stroke="#ff0000" stroke-width="1" shape-rendering="crispEdges"/>
<rect x="1682.5" y="37.5" width="4" height="4" fill="#fff" stroke="#ff0000" stroke-width="1" shape-rendering="crispEdges"/>
<rect x="1682.5" y="69.5" width="4" height="4" fill="#fff" stroke="#32cd32" stroke-width="1" shape-rendering="crispEdges"/>
<rect x="1682.5" y="82.5" width="4" height="4" fill="#fff" stroke="#0000ff" stroke-width="1" shape-rendering="crispEdges"/>
<rect x="1682.5" y="97.5" width="4" height="4" fill="#fff" stroke="#0000ff" stroke-width="1" shape-rendering="crispEdges"/>
<rect x="-3" y="921" width="1" height="3" fill="#000" shape-rendering="crispEdges"/>
<text x="-3" y="933.1" font-size="10.2" fill="#000" stroke="#000" stroke-width="0.12" textLength="45.0" lengthAdjust="spacingAndGlyphs">2 Jun 2020</text>
<rect x="61" y="921" width="1" height="3" fill="#000" shape-rendering="crispEdges"/>
<text x="61" y="933.1" font-size="10.2" fill="#000" stroke="#000" stroke-width="0.12" textLength="50.0" lengthAdjust="spacingAndGlyphs">11 Jun 2020</text>
<rect x="125" y="921" width="1" height="3" fill="#000" shape-rendering="crispEdges"/>
<text x="125" y="933.1" font-size="10.2" fill="#000" stroke="#000" stroke-width="0.12" textLength="50.0" lengthAdjust="spacingAndGlyphs">21 Jun 2020</text>
<rect x="189" y="921" width="1" height="3" fill="#000" shape-rendering="crispEdges"/>
<text x="189" y="933.1" font-size="10.2" fill="#000" stroke="#000" stroke-width="0.12" textLength="50.0" lengthAdjust="spacingAndGlyphs">30 Jun 2020</text>
<rect x="253" y="921" width="1" height="3" fill="#000" shape-rendering="crispEdges"/>
<text x="253" y="933.1" font-size="10.2" fill="#000" stroke="#000" stroke-width="0.12" textLength="41.9" lengthAdjust="spacingAndGlyphs">9 Jul 2020</text>
<rect x="317" y="921" width="1" height="3" fill="#000" shape-rendering="crispEdges"/>
<text x="317" y="933.1" font-size="10.2" fill="#000" stroke="#000" stroke-width="0.12" textLength="47.0" lengthAdjust="spacingAndGlyphs">19 Jul 2020</text>
<rect x="381" y="921" width="1" height="3" fill="#000" shape-rendering="crispEdges"/>
<text x="381" y="933.1" font-size="10.2" fill="#000" stroke="#000" stroke-width="0.12" textLength="47.0" lengthAdjust="spacingAndGlyphs">28 Jul 2020</text>
<rect x="445" y="921" width="1" height="3" fill="#000" shape-rendering="crispEdges"/>
<text x="445" y="933.1" font-size="10.2" fill="#000" stroke="#000" stroke-width="0.12" textLength="46.6" lengthAdjust="spacingAndGlyphs">6 Aug 2020</text>
<rect x="509" y="921" width="1" height="3" fill="#000" shape-rendering="crispEdges"/>
<text x="509" y="933.1" font-size="10.2" fill="#000" stroke="#000" stroke-width="0.12" textLength="51.6" lengthAdjust="spacingAndGlyphs">16 Aug 2020</text>
<rect x="573" y="921" width="1" height="3" fill="#000" shape-rendering="crispEdges"/>
<text x="573" y="933.1" font-size="10.2" fill="#000" stroke="#000" stroke-width="0.12" textLength="51.6" lengthAdjust="spacingAndGlyphs">25 Aug 2020</text>
<rect x="637" y="921" width="1" height="3" fill="#000" shape-rendering="crispEdges"/>
<text x="637" y="933.1" font-size="10.2" fill="#000" stroke="#000" stroke-width="0.12" textLength="45.9" lengthAdjust="spacingAndGlyphs">3 Sep 2020</text>
<rect x="701" y="921" width="1" height="3" fill="#000" shape-rendering="crispEdges"/>
<text x="701" y="933.1" font-size="10.2" fill="#000" stroke="#000" stroke-width="0.12" textLength="50.9" lengthAdjust="spacingAndGlyphs">13 Sep 2020</text>
<rect x="765" y="921" width="1" height="3" fill="#000" shape-rendering="crispEdges"/>
<text x="765" y="933.1" font-size="10.2" fill="#000" stroke="#000" stroke-width="0.12" textLength="50.9" lengthAdjust="spacingAndGlyphs">22 Sep 2020</text>
<rect x="829" y="921" width="1" height="3" fill="#000" shape-rendering="crispEdges"/>
<text x="829" y="933.1" font-size="10.2" fill="#000" stroke="#000" stroke-width="0.12" textLength="44.7" lengthAdjust="spacingAndGlyphs">1 Oct 2020</text>
<rect x="893" y="921" width="1" height="3" fill="#000" shape-rendering="crispEdges"/>
<text x="893" y="933.1" font-size="10.2" fill="#000" stroke="#000" stroke-width="0.12" textLength="49.7" lengthAdjust="spacingAndGlyphs">11 Oct 2020</text>
<rect x="957" y="921" width="1" height="3" fill="#000" shape-rendering="crispEdges"/>
<text x="957" y="933.1" font-size="10.2" fill="#000" stroke="#000" stroke-width="0.12" textLength="49.7" lengthAdjust="spacingAndGlyphs">20 Oct 2020</text>
<rect x="1021" y="921" width="1" height="3" fill="#000" shape-rendering="crispEdges"/>
<text x="1021" y="933.1" font-size="10.2" fill="#000" stroke="#000" stroke-width="0.12" textLength="49.7" lengthAdjust="spacingAndGlyphs">29 Oct 2020</text>
<rect x="1085" y="921" width="1" height="3" fill="#000" shape-rendering="crispEdges"/>
<text x="1085" y="933.1" font-size="10.2" fill="#000" stroke="#000" stroke-width="0.12" textLength="46.6" lengthAdjust="spacingAndGlyphs">8 Nov 2020</text>
<rect x="1149" y="921" width="1" height="3" fill="#000" shape-rendering="crispEdges"/>
<text x="1149" y="933.1" font-size="10.2" fill="#000" stroke="#000" stroke-width="0.12" textLength="51.6" lengthAdjust="spacingAndGlyphs">17 Nov 2020</text>
<rect x="1213" y="921" width="1" height="3" fill="#000" shape-rendering="crispEdges"/>
<text x="1213" y="933.1" font-size="10.2" fill="#000" stroke="#000" stroke-width="0.12" textLength="51.6" lengthAdjust="spacingAndGlyphs">26 Nov 2020</text>
<rect x="1277" y="921" width="1" height="3" fill="#000" shape-rendering="crispEdges"/>
<text x="1277" y="933.1" font-size="10.2" fill="#000" stroke="#000" stroke-width="0.12" textLength="46.2" lengthAdjust="spacingAndGlyphs">6 Dec 2020</text>
<rect x="1341" y="921" width="1" height="3" fill="#000" shape-rendering="crispEdges"/>
<text x="1341" y="933.1" font-size="10.2" fill="#000" stroke="#000" stroke-width="0.12" textLength="51.2" lengthAdjust="spacingAndGlyphs">15 Dec 2020</text>
<rect x="1405" y="921" width="1" height="3" fill="#000" shape-rendering="crispEdges"/>
<text x="1405" y="933.1" font-size="10.2" fill="#000" stroke="#000" stroke-width="0.12" textLength="51.2" lengthAdjust="spacingAndGlyphs">24 Dec 2020</text>
<text x="2" y="587" font-size="10.2" fill="#000" stroke="#000" stroke-width="0.12" textLength="127" lengthAdjust="spacingAndGlyphs">MACD(12,26,9) 233.11 212.71</text>
<text x="2" y="759" font-size="10.2" fill="#000" stroke="#000" stroke-width="0.12" textLength="67" lengthAdjust="spacingAndGlyphs">RSI(14) 74.2569</text>
<path d="M1445,20 L1455,20 L1450,25 Z" fill="#b0b0b0"/>
<g shape-rendering="crispEdges"><rect x="1278" y="71" width="8" height="1" fill="#ff0000"/><rect x="1285.5" y="69.5" width="2" height="3" fill="#fff" stroke="#ff0000"/>
<rect x="1288.5" y="59.5" width="73" height="24" fill="#fff" stroke="#ff0000" stroke-width="1"/></g>
<text x="1289.9" y="79.9" font-size="22.3" fill="#ff0000" textLength="70.3" lengthAdjust="spacingAndGlyphs" stroke="#ff0000" stroke-width="0.35">27362.0</text>
<rect x="1376" y="71" width="114" height="7" fill="#00ff00" shape-rendering="crispEdges"/>
<path d="M1481,67 L1490,74.5 L1481,80 Z" fill="#00ff00"/>
<rect x="1502.5" y="46.5" width="110" height="24" fill="none" stroke="#303030" stroke-width="1" shape-rendering="crispEdges"/>
<rect x="1555.5" y="44.5" width="2" height="2" fill="#fff" stroke="#30e030" stroke-width="1" shape-rendering="crispEdges"/>
<text x="1503.7" y="65.6" font-size="21.2" fill="#00ff00" font-family="'Liberation Sans','Noto Sans CJK SC',sans-serif" textLength="106" lengthAdjust="spacingAndGlyphs">多空转折点</text>
<line x1="1172" y1="219" x2="1266.6" y2="104.7" stroke="#ff0000" stroke-width="3.0"/>
<path d="M1273,97 L1269,109.3 L1261.7,103.2 Z" fill="#ff0000"/>
<line x1="1276" y1="97" x2="1379.3" y2="156" stroke="#ff0000" stroke-width="3.0"/>
<path d="M1388,161 L1375.2,159.2 L1380,150.9 Z" fill="#ff0000"/>
<line x1="1393" y1="163" x2="1480.2" y2="39.2" stroke="#ff0000" stroke-width="3.0"/>
<path d="M1486,31 L1483,43.6 L1475.2,38 Z" fill="#ff0000"/>
<path d="M-0.3,30 L3.5,25.6 L7.3,30 Z" fill="#000"/>
<rect x="-2.5" y="22.5" width="4" height="4" fill="#fff" stroke="#ff0000" shape-rendering="crispEdges"/>
<text x="12" y="31" font-size="10.2" fill="#000" stroke="#000" stroke-width="0.12" textLength="59.5" lengthAdjust="spacingAndGlyphs">JPN225-,Daily</text>
<text x="78.3" y="31" font-size="10.2" fill="#000" stroke="#000" stroke-width="0.12" textLength="140" lengthAdjust="spacingAndGlyphs">26897.5 27675.0 26892.5 27517.5</text>
<g shape-rendering="crispEdges">
<rect x="0" y="38" width="221" height="66" fill="#fff"/>
<rect x="0" y="39" width="219" height="64" fill="url(#gs)"/>
<rect x="51" y="39" width="117" height="24" fill="#fff"/>
<rect x="109" y="63" width="2" height="40" fill="#fff"/>
<rect x="54.5" y="39.5" width="110" height="21" fill="#fff" stroke="#a8a8a8"/>
<rect x="55" y="40" width="20" height="20" fill="url(#gb)"/><rect x="75" y="40" width="1" height="20" fill="#a8a8a8"/>
<rect x="144" y="40" width="20" height="20" fill="url(#gb)"/><rect x="143" y="40" width="1" height="20" fill="#a8a8a8"/>
<rect x="4" y="63" width="44" height="1" fill="#f08080"/><rect x="171" y="63" width="44" height="1" fill="#f08080"/>
</g>
<path d="M62,48 L68,48 L65,52 Z" fill="#4a66c8"/><path d="M151,52 L157,52 L154,48 Z" fill="#4a66c8"/>
<text x="12.5" y="54.5" font-size="12.5" fill="#fff" textLength="25.5" lengthAdjust="spacingAndGlyphs">SELL</text>
<text x="180.5" y="54.5" font-size="12.5" fill="#fff" textLength="22.5" lengthAdjust="spacingAndGlyphs">BUY</text>
<text x="139.8" y="54" font-size="12.5" fill="#000" text-anchor="end">1.00</text>
<text x="16" y="93.5" font-size="11.5" fill="#fff" font-weight="bold" textLength="34.5" lengthAdjust="spacingAndGlyphs">27516</text>
<text x="126" y="93.5" font-size="11.5" fill="#fff" font-weight="bold" textLength="34" lengthAdjust="spacingAndGlyphs">27539</text>
<rect x="56" y="91" width="3" height="3" fill="#fff"/><rect x="167" y="91" width="3" height="3" fill="#fff"/>
<text x="60.5" y="94" font-size="33" fill="#fff" textLength="18" lengthAdjust="spacingAndGlyphs">0</text>
<text x="171.5" y="94" font-size="33" fill="#fff" textLength="18" lengthAdjust="spacingAndGlyphs">0</text>
<rect x="1733" y="17" width="1" height="920" fill="#e3e3e3" shape-rendering="crispEdges"/>
</svg>
</div></body></html>
